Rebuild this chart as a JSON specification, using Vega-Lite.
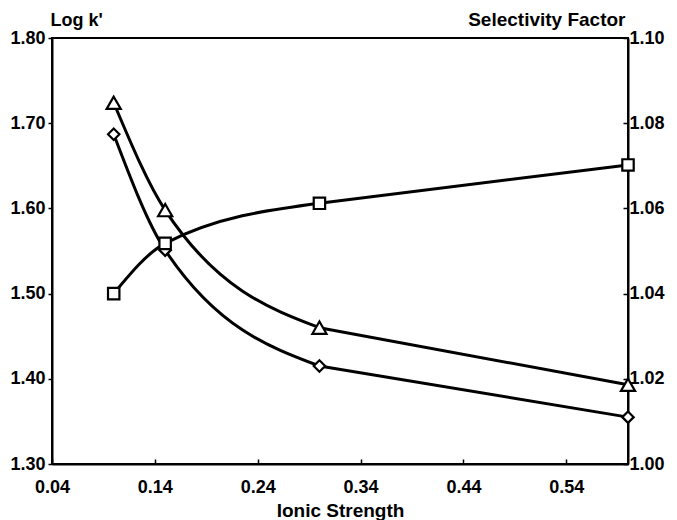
{
  "$schema": "https://vega.github.io/schema/vega-lite/v6.json",
  "width": 576,
  "height": 426,
  "autosize": {"type": "none"},
  "padding": {"left": 52, "top": 38, "right": 49, "bottom": 56},
  "background": "white",
  "config": {
    "view": {"stroke": "black", "strokeWidth": 2},
    "font": "Liberation Sans",
    "axis": {
      "grid": false,
      "domainColor": "black",
      "domainWidth": 2,
      "tickColor": "black",
      "tickWidth": 1.5,
      "labelFont": "Liberation Sans",
      "labelFontWeight": "bold",
      "labelFontSize": 18,
      "labelColor": "black",
      "labelFlush": false,
      "labelOverlap": false,
      "titleFont": "Liberation Sans",
      "titleFontWeight": "bold",
      "titleFontSize": 19,
      "titleColor": "black"
    }
  },
  "data": {
    "values": [
      {"series": "tri", "x": 0.10, "y": 1.724},
      {"series": "tri", "x": 0.15, "y": 1.598},
      {"series": "tri", "x": 0.30, "y": 1.460},
      {"series": "tri", "x": 0.60, "y": 1.393},
      {"series": "dia", "x": 0.10, "y": 1.687},
      {"series": "dia", "x": 0.15, "y": 1.551},
      {"series": "dia", "x": 0.30, "y": 1.415},
      {"series": "dia", "x": 0.60, "y": 1.355},
      {"series": "sq", "x": 0.10, "y": 1.040},
      {"series": "sq", "x": 0.15, "y": 1.0518},
      {"series": "sq", "x": 0.30, "y": 1.0612},
      {"series": "sq", "x": 0.60, "y": 1.0702}
    ]
  },
  "encoding": {
    "x": {
      "field": "x",
      "type": "quantitative",
      "scale": {"domain": [0.04, 0.60], "nice": false, "zero": false},
      "axis": {
        "values": [0.04, 0.14, 0.24, 0.34, 0.44, 0.54],
        "format": ".2f",
        "tickSize": -5,
        "labelPadding": 19,
        "title": "Ionic Strength",
        "titlePadding": 5
      }
    }
  },
  "layer": [
    {
      "transform": [{"filter": "datum.series !== 'sq'"}],
      "encoding": {
        "y": {
          "field": "y",
          "type": "quantitative",
          "scale": {"domain": [1.3, 1.8], "nice": false, "zero": false},
          "axis": {
            "orient": "left",
            "values": [1.3, 1.4, 1.5, 1.6, 1.7, 1.8],
            "format": ".2f",
            "tickSize": 4,
            "labelPadding": 3,
            "title": "Log k'",
            "titleFontSize": 18,
            "titleAngle": 0,
            "titleAlign": "left",
            "titleBaseline": "alphabetic",
            "titleX": -2,
            "titleY": -13
          }
        }
      },
      "layer": [
        {
          "transform": [{"filter": "datum.x <= 0.3"}],
          "mark": {"type": "line", "interpolate": "monotone", "color": "black", "strokeWidth": 3},
          "encoding": {"detail": {"field": "series"}}
        },
        {
          "transform": [{"filter": "datum.x >= 0.3"}],
          "mark": {"type": "line", "interpolate": "linear", "color": "black", "strokeWidth": 3},
          "encoding": {"detail": {"field": "series"}}
        },
        {
          "transform": [{"filter": "datum.series === 'tri'"}],
          "mark": {"type": "point", "shape": "triangle-up", "size": 200, "filled": true, "fill": "white", "stroke": "black", "strokeWidth": 2.2, "opacity": 1}
        },
        {
          "transform": [{"filter": "datum.series === 'dia'"}],
          "mark": {"type": "point", "shape": "diamond", "size": 130, "filled": true, "fill": "white", "stroke": "black", "strokeWidth": 2.2, "opacity": 1}
        }
      ]
    },
    {
      "transform": [{"filter": "datum.series === 'sq'"}],
      "encoding": {
        "y": {
          "field": "y",
          "type": "quantitative",
          "scale": {"domain": [1.0, 1.1], "nice": false, "zero": false},
          "axis": {
            "orient": "right",
            "values": [1.0, 1.02, 1.04, 1.06, 1.08, 1.1],
            "format": ".2f",
            "tickSize": -5,
            "labelPadding": 6,
            "title": "Selectivity Factor",
            "titleAngle": 0,
            "titleAlign": "right",
            "titleBaseline": "alphabetic",
            "titleX": -3,
            "titleY": -13
          }
        }
      },
      "layer": [
        {
          "transform": [{"filter": "datum.x <= 0.3"}],
          "mark": {"type": "line", "interpolate": "monotone", "color": "black", "strokeWidth": 3}
        },
        {
          "transform": [{"filter": "datum.x >= 0.3"}],
          "mark": {"type": "line", "interpolate": "linear", "color": "black", "strokeWidth": 3}
        },
        {
          "mark": {"type": "point", "shape": "square", "size": 130, "filled": true, "fill": "white", "stroke": "black", "strokeWidth": 2.2, "opacity": 1}
        }
      ]
    }
  ],
  "resolve": {"scale": {"y": "independent"}}
}
